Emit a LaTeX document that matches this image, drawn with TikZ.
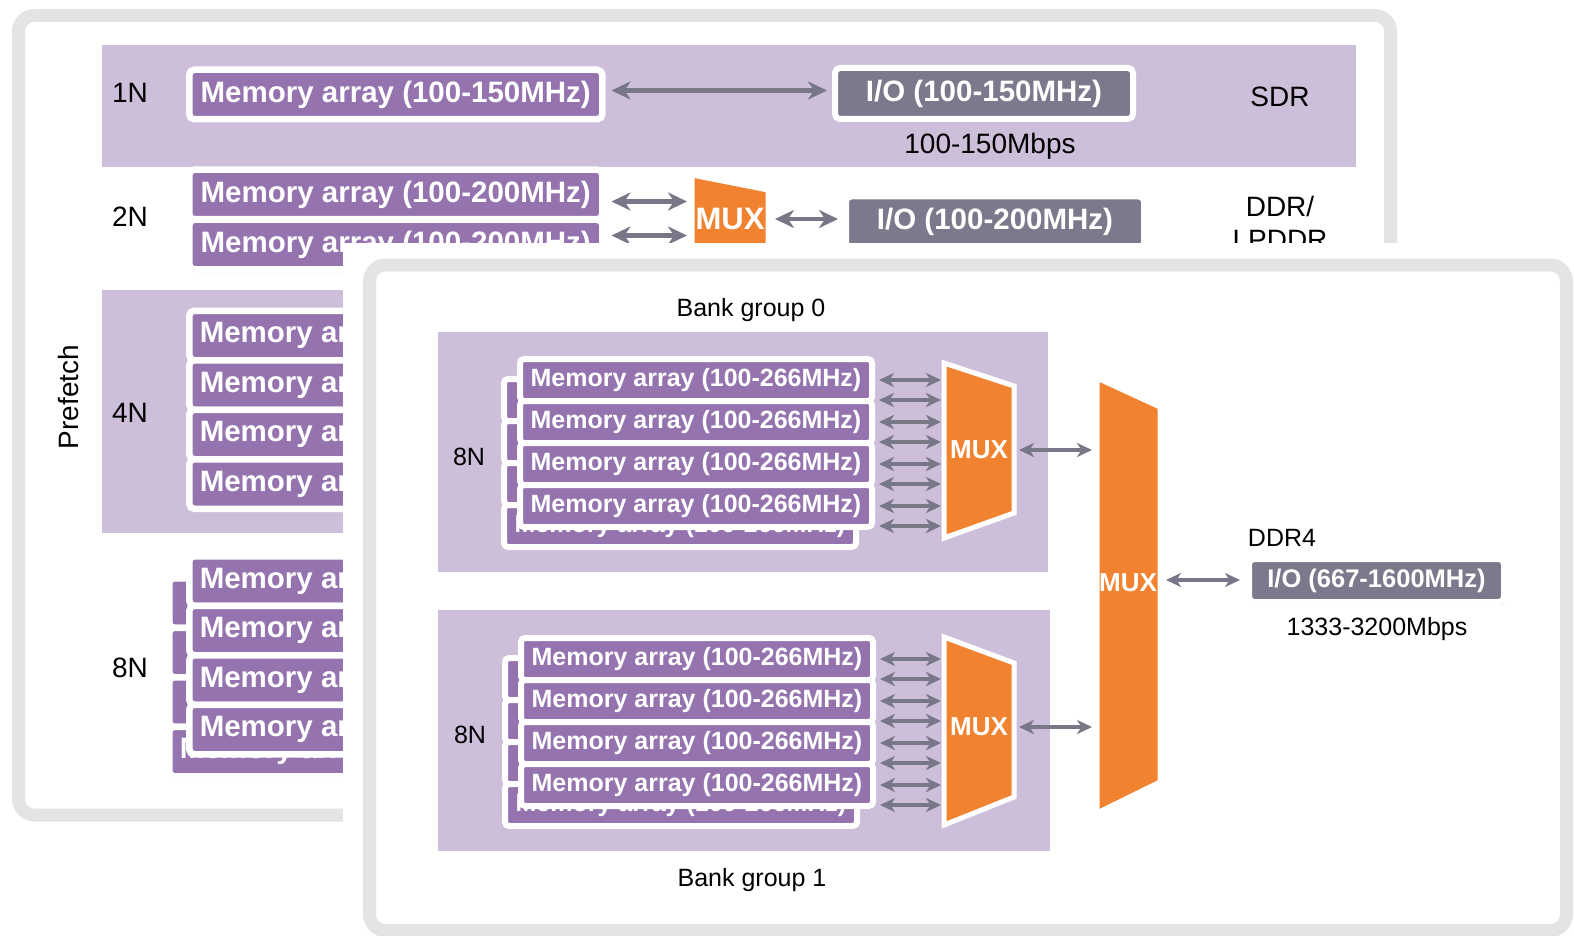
\documentclass[tikz,border=0pt]{standalone}
\usepackage{fontspec}
\setmainfont{Liberation Sans}
\usetikzlibrary{arrows.meta,shadows,calc}

\definecolor{bandP}{HTML}{CDBEDA}
\definecolor{memP}{HTML}{9473AF}
\definecolor{ioG}{HTML}{7A7A8C}
\definecolor{muxO}{HTML}{F18230}
\definecolor{arrG}{HTML}{777788}
\definecolor{frameG}{HTML}{E4E4E4}

\newcommand{\leftpart}[1]{\makebox[392pt][l]{#1}}

\tikzset{
  lbl/.style={text=black, inner sep=0pt, align=center, font=\fontsize{28}{33}\selectfont},
  lblS/.style={text=black, inner sep=0pt, font=\fontsize{25}{28}\selectfont},
  boxshadow/.style={drop shadow={shadow xshift=1.5pt, shadow yshift=-3pt, opacity=0.2, fill=black!70}},
  membig/.style={draw=white, line width=6.5pt, fill=memP, rounded corners=5pt,
    minimum width=413pt, minimum height=49.5pt, inner sep=0pt, text=white,
    font=\bfseries\fontsize{29.5}{30}\selectfont, boxshadow},
  memsmall/.style={draw=white, line width=6pt, fill=memP, rounded corners=4pt,
    minimum width=352pt, minimum height=42pt, inner sep=0pt, text=white,
    font=\bfseries\fontsize{25}{26}\selectfont, boxshadow},
  iobig/.style={draw=white, line width=6pt, fill=ioG, rounded corners=5pt,
    minimum width=298pt, minimum height=51pt, inner sep=0pt, text=white,
    font=\bfseries\fontsize{29.5}{30}\selectfont, boxshadow},
  iosmall/.style={draw=white, line width=6pt, fill=ioG, rounded corners=5pt,
    minimum width=255pt, minimum height=43pt, inner sep=0pt, text=white,
    font=\bfseries\fontsize{25.5}{26}\selectfont, boxshadow},
  muxshape/.style={fill=muxO, draw=white, line width=5pt, line join=miter},
  muxbig/.style={text=white, inner sep=0pt, font=\bfseries\fontsize{31}{31}\selectfont},
  muxsmall/.style={text=white, inner sep=0pt, font=\bfseries\fontsize{26}{26}\selectfont},
  tipB/.tip={Stealth[length=19pt,width=18pt,inset=6pt]},
  tipS/.tip={Stealth[length=15pt,width=14pt,inset=4.5pt]},
  biarr/.style={draw=arrG, line width=4.5pt, tipB-tipB},
  biarrS/.style={draw=arrG, line width=3.3pt, tipS-tipS},
  panel/.style={draw=frameG, fill=white, line width=13pt, rounded corners=16pt},
}

\begin{document}
\begin{tikzpicture}[x=1pt,y=-1pt]
\useasboundingbox (0,0) rectangle (1574,936);
\fill[white] (0,0) rectangle (1574,936);

% ---------------- rear panel: prefetch generations ----------------
\draw[panel] (18.5,15.5) rectangle (1390.5,815);
\fill[bandP] (102,45) rectangle (1356,167);
\fill[bandP] (102,290) rectangle (1356,533);

\node[lbl, rotate=90] (pf) at (68,397) {Prefetch};
\node[lbl] (n1) at (130,93) {1N};
\node[lbl] (n2) at (130,217) {2N};
\node[lbl] (n4) at (130,413) {4N};
\node[lbl] (n8) at (130,668) {8N};

% 1N / SDR
\node[membig] (m1) at (395.75,94.5) {Memory array (100-150MHz)};
\node[iobig] (io1) at (984,93.5) {I/O (100-150MHz)};
\draw[biarr] ($(m1.east)+(6,-4)$) -- ($(io1.west)+(-5,-3)$);
\node[lbl] (r1) at (990,146) {100-150Mbps};
\node[lbl] (sdr) at (1280,97) {SDR};

% 2N / DDR
\node[membig] (m2a) at (395.75,194.5) {Memory array (100-200MHz)};
\node[membig] (m2b) at (395.75,244.5) {Memory array (100-200MHz)};
\draw[muxshape] (692,175) -- (768,190) -- (768,248) -- (692,263) -- cycle;
\coordinate (mux2L) at (692,219);
\coordinate (mux2R) at (768,219);
\node[muxbig] (mux2) at (730,219) {MUX};
\draw[biarr] ($(m2a.east)+(6,7)$) -- ($(m2a.east -| mux2L)+(-5,7)$);
\draw[biarr] ($(m2b.east)+(6,-9)$) -- ($(m2b.east -| mux2L)+(-5,-9)$);
\node[iobig] (io2) at (995,222) {I/O (100-200MHz)};
\draw[biarr] ($(mux2R)+(7,0)$) -- ($(io2.west |- mux2R)+(-5,0)$);
\node[lbl] (ddr) at (1280,223) {DDR/\\LPDDR};

% 4N
\node[membig] (m4a) at (395.75,335.5) {\leftpart{Memory array}};
\node[membig] (m4b) at (395.75,385) {\leftpart{Memory array}};
\node[membig] (m4c) at (395.75,434.5) {\leftpart{Memory array}};
\node[membig] (m4d) at (395.75,484) {\leftpart{Memory array}};

% 8N, two stacked layers
\node[membig] (m8e) at (375.75,603) {};
\node[membig] (m8f) at (375.75,652.5) {};
\node[membig] (m8g) at (375.75,702) {};
\node[membig] (m8h) at (375.75,751.5) {\leftpart{Memory array}};
\node[membig] (m8a) at (395.75,581) {\leftpart{Memory array}};
\node[membig] (m8b) at (395.75,630.5) {\leftpart{Memory array}};
\node[membig] (m8c) at (395.75,680) {\leftpart{Memory array}};
\node[membig] (m8d) at (395.75,729.5) {\leftpart{Memory array}};

% ---------------- front panel: DDR4 bank groups ----------------
\fill[white] (343,243) rectangle (1580,940);
\draw[panel] (369.5,265) rectangle (1566.5,930.5);

\fill[bandP] (438,332) rectangle (1048,572);
\fill[bandP] (438,610) rectangle (1050,851);
\node[lblS] (bg0) at (751,310) {Bank group 0};
\node[lblS] (bg1) at (752,880) {Bank group 1};
\node[lblS] (g0n) at (469,457) {8N};
\node[lblS] (g1n) at (470,735) {8N};

% bank group 0
\node[memsmall] (f0e) at (680,400) {};
\node[memsmall] (f0f) at (680,442) {};
\node[memsmall] (f0g) at (680,484) {};
\node[memsmall] (f0h) at (680,526) {Memory array (100-266MHz)};
\node[memsmall] (f0a) at (696,380) {Memory array (100-266MHz)};
\node[memsmall] (f0b) at (696,422) {Memory array (100-266MHz)};
\node[memsmall] (f0c) at (696,464) {Memory array (100-266MHz)};
\node[memsmall] (f0d) at (696,506) {Memory array (100-266MHz)};

\draw[muxshape] (944,363) -- (1014,386) -- (1014,513) -- (944,538) -- cycle;
\coordinate (mux0L) at (944,450);
\coordinate (mux0R) at (1014,450);
\node[muxsmall] (mux0) at (979,450) {MUX};

\coordinate (x0) at ($(f0a.east)+(4,0)$);
\foreach \b in {f0a,f0e,f0b,f0f,f0c,f0g,f0d,f0h}
  \draw[biarrS] (\b.east -| x0) -- ($(\b.east -| mux0L)+(-3,0)$);

% bank group 1
\node[memsmall] (f1e) at (681,679) {};
\node[memsmall] (f1f) at (681,721) {};
\node[memsmall] (f1g) at (681,763) {};
\node[memsmall] (f1h) at (681,805) {Memory array (100-266MHz)};
\node[memsmall] (f1a) at (697,659) {Memory array (100-266MHz)};
\node[memsmall] (f1b) at (697,701) {Memory array (100-266MHz)};
\node[memsmall] (f1c) at (697,743) {Memory array (100-266MHz)};
\node[memsmall] (f1d) at (697,785) {Memory array (100-266MHz)};

\draw[muxshape] (944,637) -- (1014,663) -- (1014,797) -- (944,825) -- cycle;
\coordinate (mux1L) at (944,727);
\coordinate (mux1R) at (1014,727);
\node[muxsmall] (mux1) at (979,727) {MUX};

\coordinate (x1) at ($(f1a.east)+(4,0)$);
\foreach \b in {f1a,f1e,f1b,f1f,f1c,f1g,f1d,f1h}
  \draw[biarrS] (\b.east -| x1) -- ($(\b.east -| mux1L)+(-3,0)$);

% output multiplexer and DDR4 I/O
\draw[muxshape] (1097,378) -- (1160,407) -- (1160,782) -- (1097,813) -- cycle;
\coordinate (bigL) at (1097,583);
\coordinate (bigR) at (1160,580);
\node[muxsmall] (muxbig) at (1128,583) {MUX};

\draw[biarrS] ($(mux0R)+(5,0)$) -- ($(mux0R -| bigL)+(-5,0)$);
\draw[biarrS] ($(mux1R)+(5,0)$) -- ($(mux1R -| bigL)+(-5,0)$);

\node[iosmall] (io4) at (1376.5,580.5) {I/O (667-1600MHz)};
\draw[biarrS] ($(bigR)+(6,0)$) -- ($(io4.west |- bigR)+(-6,0)$);
\node[lblS] (ddr4) at (1282,538) {DDR4};
\node[lblS] (r4) at (1377,629) {1333-3200Mbps};
\end{tikzpicture}
\end{document}
